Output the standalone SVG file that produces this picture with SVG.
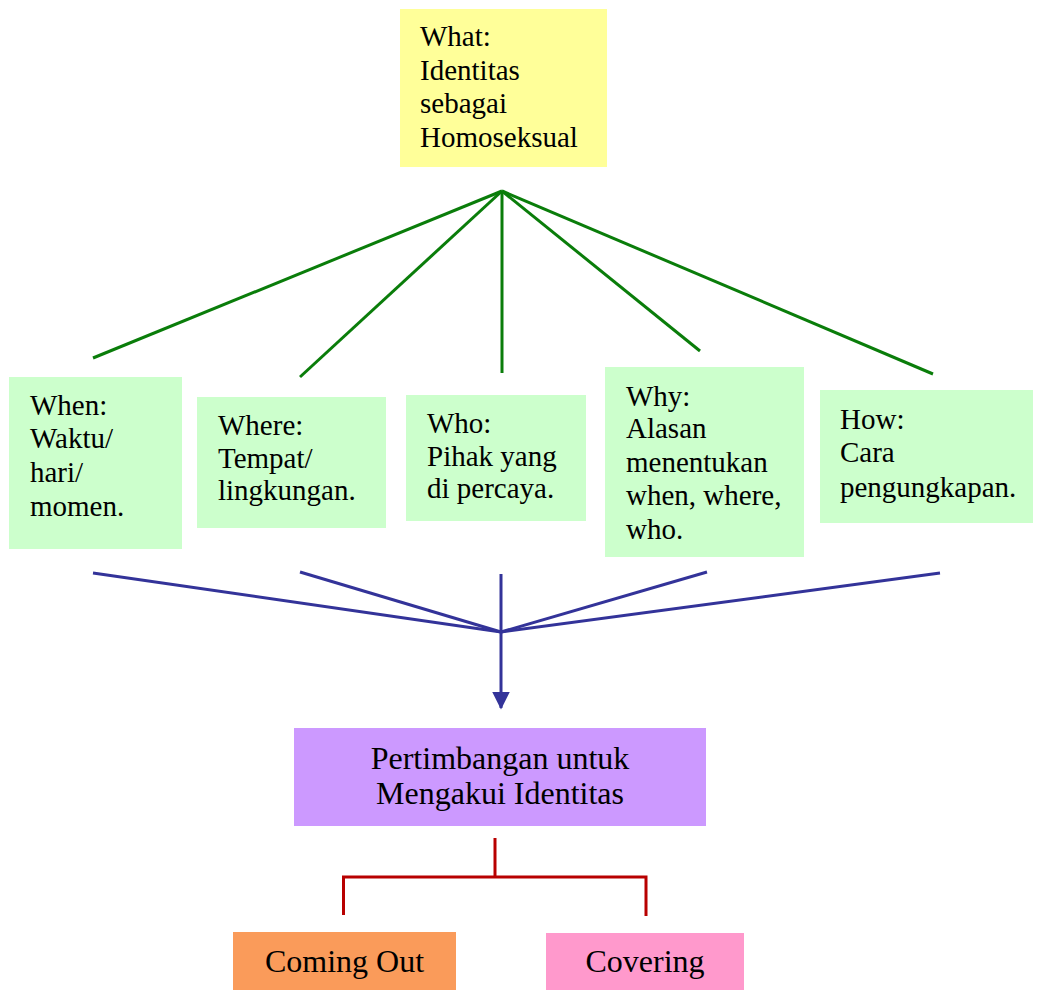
<svg xmlns="http://www.w3.org/2000/svg" width="1044" height="990" viewBox="0 0 1044 990">
  <style>
    text { font-family: 'Liberation Serif', 'Times New Roman', Times, serif; font-size: 29px; fill: #000; }
    .c { text-anchor: middle; font-size: 32px; }
    .green { fill: #ccffcc; }
    .g-line { stroke: #0a7d0a; stroke-width: 3; fill: none; }
    .b-line { stroke: #333399; stroke-width: 3; fill: none; }
    .r-line { stroke: #b80000; stroke-width: 3; fill: none; }
  </style>
  <defs>
    <marker id="arrow" markerWidth="6" markerHeight="6" refX="5.5" refY="3" orient="auto" markerUnits="strokeWidth">
      <path d="M0,0 L6,3 L0,6 Z" fill="#333399"/>
    </marker>
  </defs>
  <rect width="1044" height="990" fill="#ffffff"/>

  <g id="connectors">
    <!-- fan from the top node -->
    <line class="g-line" x1="502" y1="191" x2="93" y2="358"/>
    <line class="g-line" x1="502" y1="191" x2="300" y2="377"/>
    <line class="g-line" x1="502" y1="191" x2="502" y2="373"/>
    <line class="g-line" x1="502" y1="191" x2="700" y2="351"/>
    <line class="g-line" x1="502" y1="191" x2="933" y2="374"/>
    <!-- fan into the consideration node -->
    <line class="b-line" x1="93" y1="573" x2="501" y2="632"/>
    <line class="b-line" x1="300" y1="572" x2="501" y2="632"/>
    <line class="b-line" x1="707" y1="572" x2="501" y2="632"/>
    <line class="b-line" x1="940" y1="573" x2="501" y2="632"/>
    <line class="b-line" x1="501" y1="574" x2="501" y2="708" marker-end="url(#arrow)"/>
    <!-- split into the two outcomes -->
    <polyline class="r-line" points="495,838 495,877"/>
    <polyline class="r-line" points="343.5,915 343.5,877 646,877 646,916"/>
  </g>

  <g id="what">
    <rect x="400" y="9" width="207" height="158" fill="#ffff99"/>
    <text x="420" y="46">What:</text>
    <text x="420" y="80">Identitas</text>
    <text x="420" y="113">sebagai</text>
    <text x="420" y="147">Homoseksual</text>
  </g>

  <g id="when">
    <rect class="green" x="9" y="377" width="173" height="172"/>
    <text x="30" y="415">When:</text>
    <text x="30" y="448">Waktu/</text>
    <text x="30" y="482">hari/</text>
    <text x="30" y="516">momen.</text>
  </g>

  <g id="where">
    <rect class="green" x="197" y="397" width="189" height="131"/>
    <text x="218" y="435">Where:</text>
    <text x="218" y="468">Tempat/</text>
    <text x="218" y="500">lingkungan.</text>
  </g>

  <g id="who">
    <rect class="green" x="406" y="395" width="180" height="126"/>
    <text x="427" y="433">Who:</text>
    <text x="427" y="466">Pihak yang</text>
    <text x="427" y="498">di percaya.</text>
  </g>

  <g id="why">
    <rect class="green" x="605" y="367" width="199" height="190"/>
    <text x="626" y="406">Why:</text>
    <text x="626" y="438">Alasan</text>
    <text x="626" y="472">menentukan</text>
    <text x="626" y="505">when, where,</text>
    <text x="626" y="539">who.</text>
  </g>

  <g id="how">
    <rect class="green" x="820" y="390" width="213" height="133"/>
    <text x="840" y="429">How:</text>
    <text x="840" y="462">Cara</text>
    <text x="840" y="497">pengungkapan.</text>
  </g>

  <g id="pertimbangan">
    <rect x="294" y="728" width="412" height="98" fill="#cc99ff"/>
    <text class="c" x="500" y="769">Pertimbangan untuk</text>
    <text class="c" x="500" y="804">Mengakui Identitas</text>
  </g>

  <g id="coming-out">
    <rect x="233" y="932" width="223" height="58" fill="#fa9b5a"/>
    <text class="c" x="344.5" y="972">Coming Out</text>
  </g>

  <g id="covering">
    <rect x="546" y="933" width="198" height="57" fill="#ff99cc"/>
    <text class="c" x="645" y="972">Covering</text>
  </g>
</svg>
